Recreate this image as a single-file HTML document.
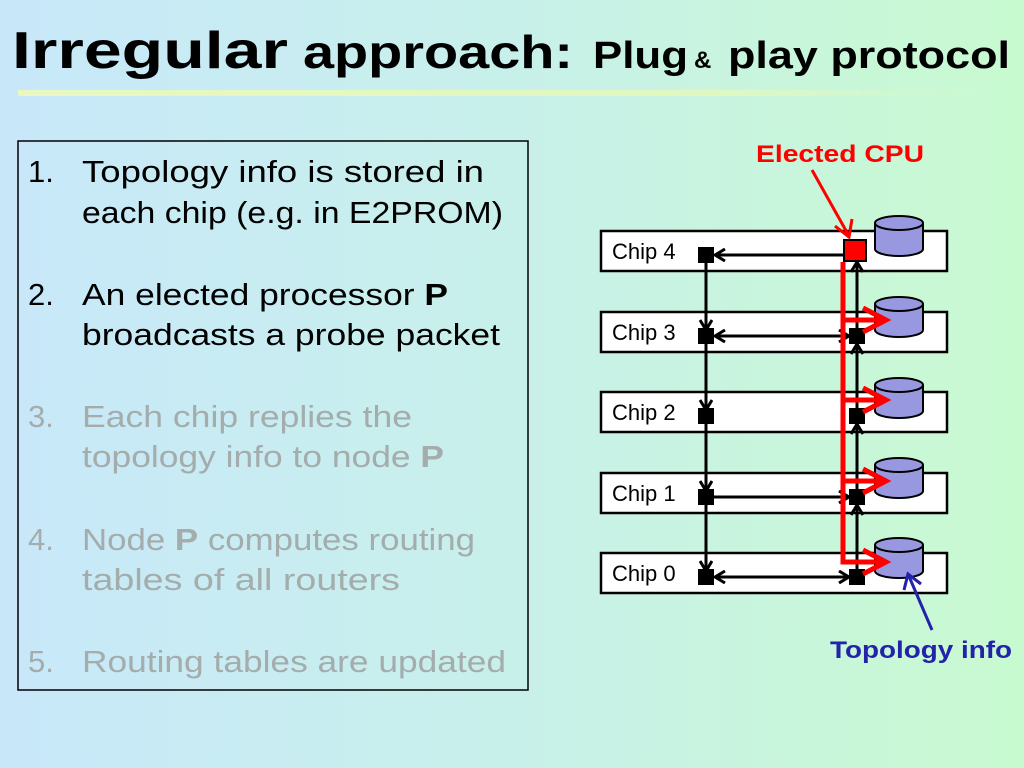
<!DOCTYPE html>
<html><head><meta charset="utf-8"><style>
html,body{margin:0;padding:0;}
body{width:1024px;height:768px;overflow:hidden;background:linear-gradient(90deg,#c8e8fa 0%,#c8f0ea 50%,#c8fad0 100%);}
svg{display:block;font-family:"Liberation Sans",sans-serif;}
</style></head><body>
<svg width="1024" height="768" viewBox="0 0 1024 768">
<defs>
<linearGradient id="ul" x1="0" x2="1"><stop offset="0" stop-color="#e8f8c0"/><stop offset="0.7" stop-color="#e0f8c0"/><stop offset="1" stop-color="#d0f8d0" stop-opacity="0"/></linearGradient>
<marker id="ah" viewBox="0 0 14 14" refX="12" refY="7" markerWidth="14" markerHeight="14" markerUnits="userSpaceOnUse" orient="auto-start-reverse"><path d="M2,1 L12,7 L2,13" fill="none" stroke="#000" stroke-width="3"/></marker>
</defs>
<text x="12" y="68" font-size="52" font-weight="bold" textLength="276" lengthAdjust="spacingAndGlyphs">Irregular</text>
<text x="303" y="68" font-size="46" font-weight="bold" textLength="270" lengthAdjust="spacingAndGlyphs">approach:</text>
<text x="593" y="68" font-size="38" font-weight="bold" textLength="95" lengthAdjust="spacingAndGlyphs">Plug</text>
<text x="694" y="68" font-size="24" font-weight="bold">&amp;</text>
<text x="728" y="68" font-size="38" font-weight="bold" textLength="282" lengthAdjust="spacingAndGlyphs">play protocol</text>
<rect x="18" y="90" width="1000" height="6" fill="url(#ul)"/>

<rect x="18" y="141" width="510" height="549" fill="none" stroke="#000" stroke-width="1.5"/>
<g font-size="31">
<text x="28" y="182">1.</text><text x="82" y="182" textLength="402" lengthAdjust="spacingAndGlyphs">Topology info is stored in</text>
<text x="82" y="223" textLength="421" lengthAdjust="spacingAndGlyphs">each chip (e.g. in E2PROM)</text>
<text x="28" y="305">2.</text><text x="82" y="305" textLength="366" lengthAdjust="spacingAndGlyphs">An elected processor <tspan font-weight="bold">P</tspan></text>
<text x="82" y="345" textLength="418" lengthAdjust="spacingAndGlyphs">broadcasts a probe packet</text>
<g fill="#a4acac">
<text x="28" y="427">3.</text><text x="82" y="427" textLength="330" lengthAdjust="spacingAndGlyphs">Each chip replies the</text>
<text x="82" y="467" textLength="362" lengthAdjust="spacingAndGlyphs">topology info to node <tspan font-weight="bold">P</tspan></text>
<text x="28" y="550">4.</text><text x="82" y="550" textLength="393" lengthAdjust="spacingAndGlyphs">Node <tspan font-weight="bold">P</tspan> computes routing</text>
<text x="82" y="590" textLength="318" lengthAdjust="spacingAndGlyphs">tables of all routers</text>
<text x="28" y="672">5.</text><text x="82" y="672" textLength="424" lengthAdjust="spacingAndGlyphs">Routing tables are updated</text>
</g></g>

<text x="756" y="162" font-size="24" font-weight="bold" fill="#f00" textLength="168" lengthAdjust="spacingAndGlyphs">Elected CPU</text>
<text x="830" y="658" font-size="24" font-weight="bold" fill="#2222aa" textLength="182" lengthAdjust="spacingAndGlyphs">Topology info</text>

<g stroke="#000" stroke-width="2.5" fill="#fff">
<rect x="601" y="231" width="346" height="40"/>
<rect x="601" y="312" width="346" height="40"/>
<rect x="601" y="392" width="346" height="40"/>
<rect x="601" y="473" width="346" height="40"/>
<rect x="601" y="553" width="346" height="40"/>
</g>
<g font-size="22">
<text x="612" y="259">Chip 4</text><text x="612" y="340">Chip 3</text><text x="612" y="420">Chip 2</text><text x="612" y="501">Chip 1</text><text x="612" y="581">Chip 0</text>
</g>
<g stroke="#000" stroke-width="3" fill="none">
<line x1="706" y1="255" x2="706" y2="330" marker-end="url(#ah)"/>
<line x1="706" y1="336" x2="706" y2="410" marker-end="url(#ah)"/>
<line x1="706" y1="416" x2="706" y2="491" marker-end="url(#ah)"/>
<line x1="706" y1="497" x2="706" y2="571" marker-end="url(#ah)"/>
<line x1="857" y1="336" x2="857" y2="262" marker-end="url(#ah)"/>
<line x1="857" y1="416" x2="857" y2="344" marker-end="url(#ah)"/>
<line x1="857" y1="497" x2="857" y2="424" marker-end="url(#ah)"/>
<line x1="857" y1="577" x2="857" y2="505" marker-end="url(#ah)"/>
<line x1="844" y1="255" x2="715" y2="255" marker-end="url(#ah)"/>
<line x1="715" y1="336" x2="849" y2="336" marker-start="url(#ah)" marker-end="url(#ah)"/>
<line x1="714" y1="497" x2="849" y2="497" marker-end="url(#ah)"/>
<line x1="715" y1="577" x2="849" y2="577" marker-start="url(#ah)" marker-end="url(#ah)"/>
</g>
<g fill="#000">
<rect x="698" y="247" width="16" height="16"/><rect x="698" y="328" width="16" height="16"/><rect x="698" y="408" width="16" height="16"/><rect x="698" y="489" width="16" height="16"/><rect x="698" y="569" width="16" height="16"/>
<rect x="849" y="328" width="16" height="16"/><rect x="849" y="408" width="16" height="16"/><rect x="849" y="489" width="16" height="16"/><rect x="849" y="569" width="16" height="16"/>
</g>
<rect x="844" y="240" width="22" height="21" fill="#f00" stroke="#000" stroke-width="2"/>
<g fill="#9898e0" stroke="#000" stroke-width="2">
<g transform="translate(875,216)"><path d="M0,7 V33 A24,7 0 0 0 48,33 V7"/><ellipse cx="24" cy="7" rx="24" ry="7"/></g>
<g transform="translate(875,297)"><path d="M0,7 V33 A24,7 0 0 0 48,33 V7"/><ellipse cx="24" cy="7" rx="24" ry="7"/></g>
<g transform="translate(875,378)"><path d="M0,7 V33 A24,7 0 0 0 48,33 V7"/><ellipse cx="24" cy="7" rx="24" ry="7"/></g>
<g transform="translate(875,458)"><path d="M0,7 V33 A24,7 0 0 0 48,33 V7"/><ellipse cx="24" cy="7" rx="24" ry="7"/></g>
<g transform="translate(875,538)"><path d="M0,7 V33 A24,7 0 0 0 48,33 V7"/><ellipse cx="24" cy="7" rx="24" ry="7"/></g>
</g>
<g stroke="#f00" stroke-width="5" fill="none">
<path d="M843,262 V562 H885"/>
<path d="M843,320 H885"/><path d="M843,400 H885"/><path d="M843,481 H885"/>
<path d="M863,308 L886,320 L863,332"/><path d="M863,388 L886,400 L863,412"/><path d="M863,469 L886,481 L863,493"/><path d="M863,550 L886,562 L863,574"/>
</g>
<g stroke="#f00" stroke-width="3" fill="none">
<path d="M812,170 L849,236"/>
<path d="M835,226 L849,237 L852,219"/>
</g>
<g stroke="#2222aa" stroke-width="3" fill="none">
<path d="M932,630 L908,574"/>
<path d="M904,590 L908,574 L921,584"/>
</g>
</svg>
</body></html>
